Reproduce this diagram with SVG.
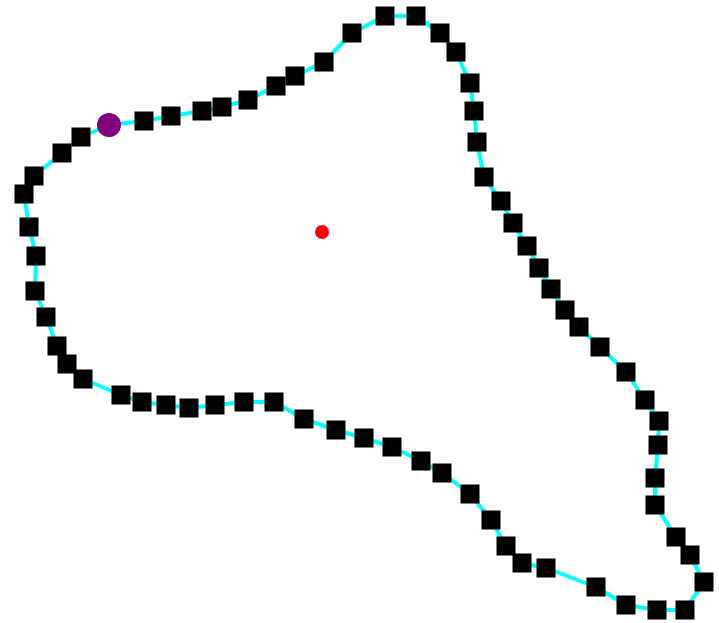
<svg xmlns="http://www.w3.org/2000/svg" xmlns:xlink="http://www.w3.org/1999/xlink" width="719" height="623" viewBox="0 0 719 623">
<style>
.curve{fill:none;stroke:#00ffff;stroke-width:4;stroke-linejoin:round}
.sq{fill:#000}
</style>
<defs><rect id="s" class="sq" x="-9.5" y="-9.5" width="19" height="19"/></defs>
<rect width="719" height="623" fill="#fff"/>
<g id="curve">
<polygon class="curve" points="109,125 144,121 171,116 202,111 222,107 248,100 276,86 295,76 324,62 352,33 385,16 416,16 440,33 456,52 470,83 474,111 477,142 484,177 501,201 513,223 527,246 539,268 551,289 565,310 579,327 600,347 626,372 645,400 659,421 658,445 655,478 655,505 676,537 690,555 704,582 685,610 657,610 626,605 596,587 546,568 522,563 506,546 491,520 470,494 442,473 421,461 392,447 364,438 336,430 304,419 274,402 244,402 215,405 189,408 166,405 142,402 121,395 83,379 67,364 57,346 46,317 35,291 36,256 29,227 24,194 34,176 62,153 81,137"/>
</g>
<g id="squares">
<use href="#s" x="144" y="121"/><use href="#s" x="171" y="116"/><use href="#s" x="202" y="111"/><use href="#s" x="222" y="107"/><use href="#s" x="248" y="100"/><use href="#s" x="276" y="86"/><use href="#s" x="295" y="76"/><use href="#s" x="324" y="62"/><use href="#s" x="352" y="33"/><use href="#s" x="385" y="16"/><use href="#s" x="416" y="16"/><use href="#s" x="440" y="33"/><use href="#s" x="456" y="52"/><use href="#s" x="470" y="83"/><use href="#s" x="474" y="111"/><use href="#s" x="477" y="142"/><use href="#s" x="484" y="177"/><use href="#s" x="501" y="201"/><use href="#s" x="513" y="223"/><use href="#s" x="527" y="246"/><use href="#s" x="539" y="268"/><use href="#s" x="551" y="289"/><use href="#s" x="565" y="310"/><use href="#s" x="579" y="327"/><use href="#s" x="600" y="347"/><use href="#s" x="626" y="372"/><use href="#s" x="645" y="400"/><use href="#s" x="659" y="421"/><use href="#s" x="658" y="445"/><use href="#s" x="655" y="478"/><use href="#s" x="655" y="505"/><use href="#s" x="676" y="537"/><use href="#s" x="690" y="555"/><use href="#s" x="704" y="582"/><use href="#s" x="685" y="610"/><use href="#s" x="657" y="610"/><use href="#s" x="626" y="605"/><use href="#s" x="596" y="587"/><use href="#s" x="546" y="568"/><use href="#s" x="522" y="563"/><use href="#s" x="506" y="546"/><use href="#s" x="491" y="520"/><use href="#s" x="470" y="494"/><use href="#s" x="442" y="473"/><use href="#s" x="421" y="461"/><use href="#s" x="392" y="447"/><use href="#s" x="364" y="438"/><use href="#s" x="336" y="430"/><use href="#s" x="304" y="419"/><use href="#s" x="274" y="402"/><use href="#s" x="244" y="402"/><use href="#s" x="215" y="405"/><use href="#s" x="189" y="408"/><use href="#s" x="166" y="405"/><use href="#s" x="142" y="402"/><use href="#s" x="121" y="395"/><use href="#s" x="83" y="379"/><use href="#s" x="67" y="364"/><use href="#s" x="57" y="346"/><use href="#s" x="46" y="317"/><use href="#s" x="35" y="291"/><use href="#s" x="36" y="256"/><use href="#s" x="29" y="227"/><use href="#s" x="24" y="194"/><use href="#s" x="34" y="176"/><use href="#s" x="62" y="153"/><use href="#s" x="81" y="137"/>
</g>
<g id="start"><circle cx="109" cy="125" r="12" fill="#800080"/></g>
<g id="center"><circle cx="322" cy="232" r="7" fill="#ff0000"/></g>
</svg>
